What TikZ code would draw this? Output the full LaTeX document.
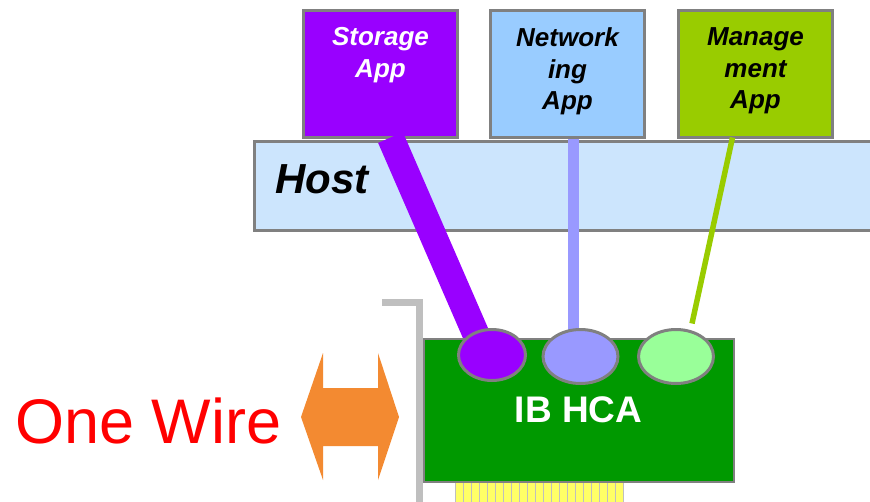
\documentclass[tikz,border=0pt]{standalone}
\usepackage{fontspec}
\setmainfont{Liberation Sans}
\usepackage{xcolor}
\usetikzlibrary{shapes.geometric, positioning}

\definecolor{storagepurple}{HTML}{9900FF}
\definecolor{netblue}{HTML}{99CCFF}
\definecolor{mgmtgreen}{HTML}{99CC00}
\definecolor{hostblue}{HTML}{CCE5FD}
\definecolor{boxgray}{HTML}{808080}
\definecolor{portblue}{HTML}{9999FF}
\definecolor{portgreen}{HTML}{99FF99}
\definecolor{cardgreen}{HTML}{009900}
\definecolor{wireorange}{HTML}{F38A31}
\definecolor{slotgray}{HTML}{BFBFBF}
\definecolor{pinyellow}{HTML}{FFFF66}

\pgfdeclarelayer{back}
\pgfdeclarelayer{links}
\pgfsetlayers{back,links,main}

\begin{document}
\begin{tikzpicture}[x=1pt, y=-1pt,
    appbox/.style={draw=boxgray, line width=3pt, minimum width=154pt,
        minimum height=127pt, inner sep=0pt, outer sep=0pt, anchor=north west},
    applabel/.style={font=\fontsize{26}{31.5}\selectfont\bfseries\itshape,
        align=center, inner sep=0pt},
    port/.style={ellipse, draw=boxgray, line width=3pt, inner sep=0pt, outer sep=0pt},
    link/.style={line cap=butt}]
    \clip (0,0) rectangle (870,501);

    \begin{pgfonlayer}{back}
    % Host bar
    \node[draw=boxgray, fill=hostblue, line width=3pt, anchor=north west,
        minimum width=640pt, minimum height=89pt, inner sep=0pt, outer sep=0pt]
        (host) at (254.5,141.5) {};
    \node[font=\fontsize{42}{42}\selectfont\bfseries\itshape, anchor=base west,
        inner sep=0pt] (hostlabel) at (275,193) {Host};

    % Applications
    \node[appbox, fill=storagepurple] (storage) at (303.5,10.5) {};
    \node[appbox, fill=netblue] (network) at (490.5,10.5) {};
    \node[appbox, fill=mgmtgreen] (mgmt) at (678.5,10.5) {};
    \node[applabel, white, below=17pt of storage.north] (storagetext) {Storage\\App};
    \node[applabel, below=17pt of network.north] (networktext) {Network\\ing\\App};
    \node[applabel, below=17pt of mgmt.north] (mgmttext) {Manage\\ment\\App};
    \end{pgfonlayer}

    % Card bracket and edge connector
    \draw[slotgray, line width=7pt] (382,302) -- (419,302) -- (419,510);
    \draw[fill=pinyellow, draw=slotgray, line width=1.5pt] (455.5,478) rectangle (623.5,510);
    \foreach \i in {1,...,20}
        \draw[slotgray, line width=1.5pt] (455.5+\i*8,482) -- ++(0,25);

    % IB HCA card
    \node[draw=boxgray, fill=cardgreen, line width=2pt, minimum width=310pt,
        minimum height=143pt, inner sep=0pt, text=white,
        font=\fontsize{37}{37}\selectfont\bfseries] (hca) at (578.5,410) {IB HCA};

    % Ports on the card
    \node[port, fill=storagepurple, minimum width=67pt, minimum height=51pt]
        (storport) at (492,355) {};
    \node[port, fill=portblue, minimum width=75pt, minimum height=54pt]
        (netport) at (580.5,356.5) {};
    \node[port, fill=portgreen, minimum width=75pt, minimum height=54pt]
        (mgmtport) at (676,356.5) {};

    % Links from applications to ports
    \begin{pgfonlayer}{links}
    \draw[link, storagepurple, line width=27pt]
        ([xshift=10pt]storage.south) -- ([xshift=-7pt]storport.center);
    \draw[link, portblue, line width=11pt]
        ([xshift=6pt,yshift=-1.5pt]network.south) -- ([xshift=-7pt]netport.center);
    \draw[link, mgmtgreen, line width=5.5pt]
        ([xshift=-23pt]mgmt.south) -- ([xshift=16pt,yshift=6pt]mgmtport.north);
    \end{pgfonlayer}

    % One wire to the fabric
    \fill[wireorange] (301,417) -- (323,353) -- (323,388) -- (378,388) -- (378,353)
        -- (399,417) -- (378,480) -- (378,446) -- (323,446) -- (323,480) -- cycle;
    \node[red, font=\fontsize{63}{63}\selectfont, anchor=base west, inner sep=0pt]
        (wire) at (15,443) {One Wire};
\end{tikzpicture}
\end{document}
